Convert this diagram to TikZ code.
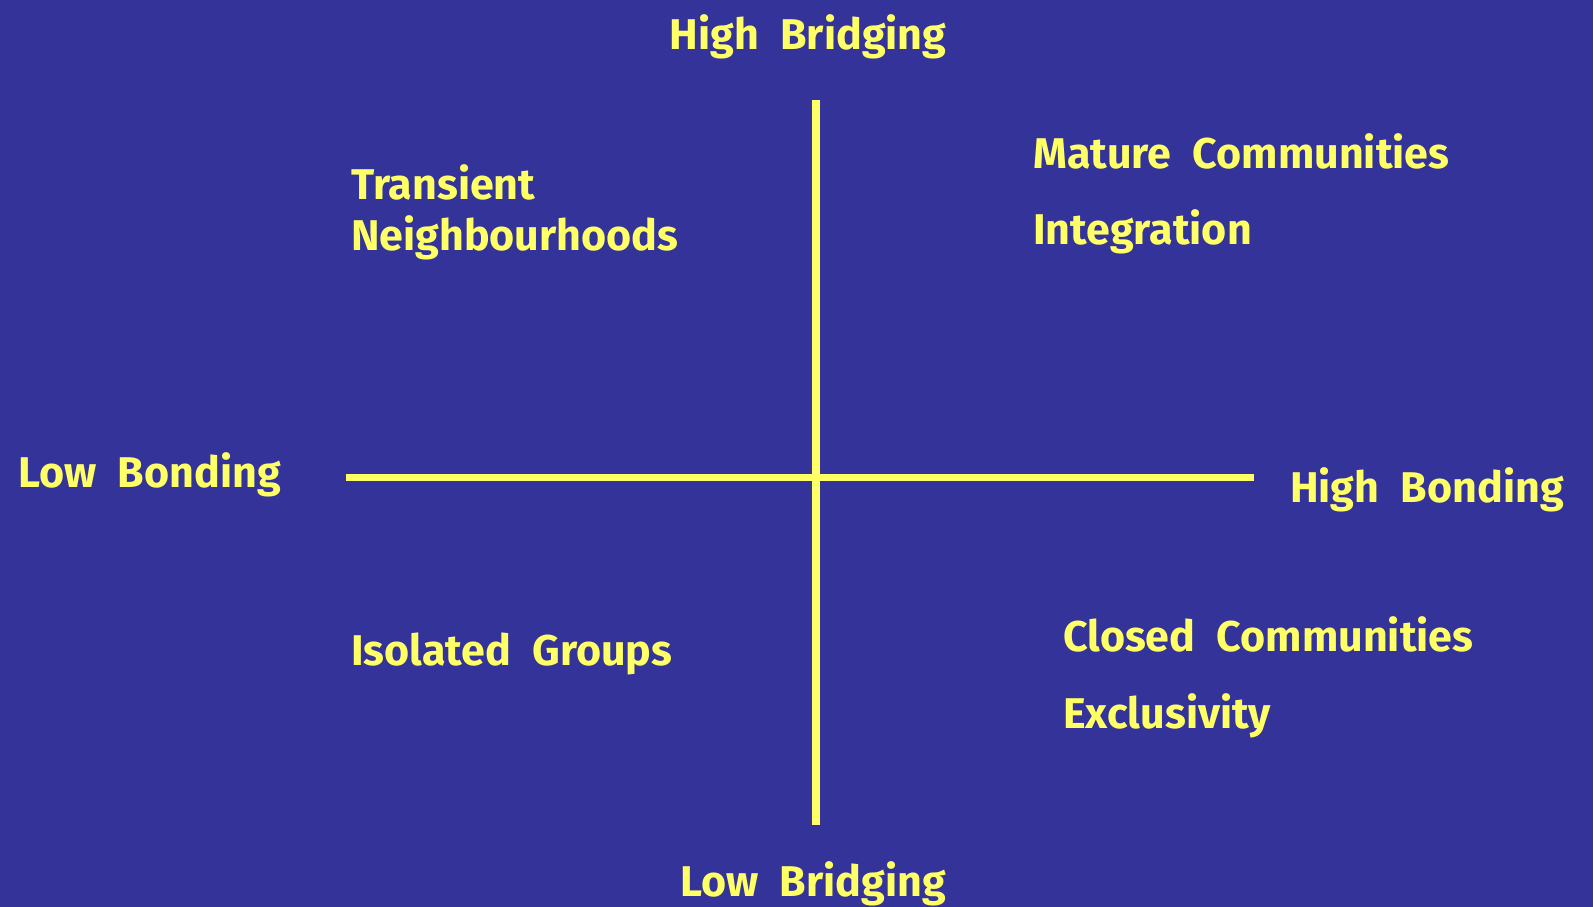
\documentclass[tikz,border=0pt]{standalone}
\usepackage{fontspec}
\setmainfont{Fira Sans}[WordSpace=2.1]
\definecolor{bg}{HTML}{333399}
\definecolor{ylw}{HTML}{FFFF66}
\begin{document}
\begin{tikzpicture}[x=1pt,y=-1pt,
  lbl/.style={text=ylw,inner sep=0pt,font=\fontsize{43}{50}\selectfont\bfseries},
  axis/.style={draw=ylw,line width=7.5pt}]
\fill[bg] (0,0) rectangle (1593,907);
\useasboundingbox (0,0) rectangle (1593,907);
\coordinate (vt) at (816,100);
\coordinate (vb) at (816,825);
\coordinate (hl) at (346,477.5);
\coordinate (hr) at (1254,477.5);
\draw[axis] (vt) -- (vb);
\draw[axis] (hl) -- (hr);
\node[lbl,anchor=base] (hbr) at (808,49) {High Bridging};
\node[lbl,anchor=base] (lbr) at (813,896) {Low Bridging};
\node[lbl,anchor=base west] (lbo) at (18,487) {Low Bonding};
\node[lbl,anchor=base west] (hbo) at (1290,502) {High Bonding};
\node[lbl,anchor=base west] (tr) at (351,199) {Transient};
\node[lbl,anchor=base west] (nb) at (351,250) {Neighbourhoods};
\node[lbl,anchor=base west] (mc) at (1033,168) {Mature Communities};
\node[lbl,anchor=base west] (in) at (1033,244) {Integration};
\node[lbl,anchor=base west] (ig) at (351,665) {Isolated Groups};
\node[lbl,anchor=base west] (cc) at (1063,651) {Closed Communities};
\node[lbl,anchor=base west] (ex) at (1063,728) {Exclusivity};
\end{tikzpicture}
\end{document}
